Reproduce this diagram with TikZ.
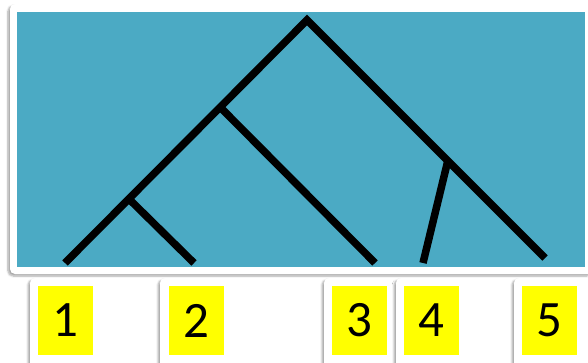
\documentclass[tikz,border=0pt]{standalone}
\usepackage{fontspec}
\setmainfont{Carlito}
\usetikzlibrary{shadows.blur}
\definecolor{teal1}{RGB}{75,170,196}
\definecolor{yel}{RGB}{255,255,0}
\tikzset{
  card/.style={fill=white, rounded corners=5pt, blur shadow={shadow xshift=-2pt, shadow yshift=-2pt, shadow blur steps=6, shadow opacity=35}},
  branch/.style={line width=7.5pt, line cap=butt, black},
  leaflabel/.style={fill=yel, minimum width=55pt, minimum height=69pt, inner sep=0pt, font=\fontsize{51}{51}\selectfont},
}
\begin{document}
\begin{tikzpicture}[x=1pt,y=-1pt]
\useasboundingbox (0,0) rectangle (588,363);
\clip (0,0) rectangle (588,363);
% main card
\path[card] (10,4) rectangle (594,274);
\fill[teal1] (17,12) rectangle (585,267);
% tree
\coordinate (r) at (307,20);
\coordinate (a) at (221,108);
\coordinate (b) at (130,200);
\coordinate (c) at (448,160);
\coordinate (l1) at (65,263);
\coordinate (l2) at (194,263);
\coordinate (l3) at (375,263);
\coordinate (l4) at (423,263);
\coordinate (l5) at (545,258);
\draw[branch] (l1) -- (r) -- (l5);
\draw[branch] (a) -- (l3);
\draw[branch] (b) -- (l2);
\draw[branch] (c) -- (l4);
% label cards
\path[card] (30,278) rectangle (100,372);
\path[card] (160,278) rectangle (231,372);
\path[card] (324,278) rectangle (394,372);
\path[card] (396,278) rectangle (467,372);
\path[card] (514,278) rectangle (585,372);
\node[leaflabel] (n1) at (65.5,320.5) {1};
\node[leaflabel] (n2) at (196,320.5) {2};
\node[leaflabel] (n3) at (359.5,320.5) {3};
\node[leaflabel] (n4) at (431.5,320.5) {4};
\node[leaflabel] (n5) at (549.5,320.5) {5};
\end{tikzpicture}
\end{document}
